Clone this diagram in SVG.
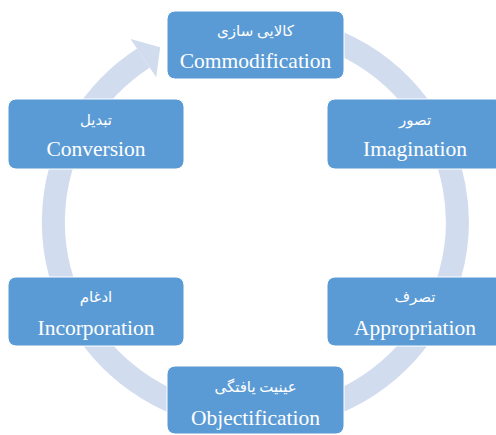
<svg xmlns="http://www.w3.org/2000/svg" width="496" height="435" viewBox="0 0 496 435">
<style>
.box{fill:#5B9BD5;stroke:#FFFFFF;stroke-width:1}
.en{font-family:"Liberation Serif","Times New Roman",serif;font-size:21.5px;fill:#FFFFFF;text-anchor:middle}
.fa{font-family:"Liberation Serif","DejaVu Sans",serif;font-size:15px;fill:#FFFFFF;text-anchor:middle}
.ring{fill:none;stroke:#D1DCEE;stroke-width:23}
</style>
<rect width="496" height="435" fill="#FFFFFF"/>
<g id="connectors">
<path class="ring" d="M237.9,25.8 A202,197 0 1 1 143.4,58.1"/>
<polygon points="130.6,39 160.2,47.2 156.2,77.2" fill="#D1DCEE"/>
</g>
<g id="commodification">
<rect class="box" x="167" y="11" width="177" height="68" rx="8"/>
<text class="fa" x="255.5" y="36" direction="rtl">کالایی سازی</text>
<text class="en" x="255.5" y="68">Commodification</text>
</g>
<g id="imagination">
<rect class="box" x="327" y="99" width="176" height="70" rx="8"/>
<text class="fa" x="415" y="125" direction="rtl">تصور</text>
<text class="en" x="415" y="156">Imagination</text>
</g>
<g id="appropriation">
<rect class="box" x="327" y="277" width="176" height="69" rx="8"/>
<text class="fa" x="415" y="302" direction="rtl">تصرف</text>
<text class="en" x="415" y="335">Appropriation</text>
</g>
<g id="objectification">
<rect class="box" x="167" y="366" width="177" height="68" rx="8"/>
<text class="fa" x="255.5" y="392" direction="rtl">عینیت یافتگی</text>
<text class="en" x="255.5" y="425">Objectification</text>
</g>
<g id="incorporation">
<rect class="box" x="8" y="277" width="176" height="69" rx="8"/>
<text class="fa" x="96" y="302" direction="rtl">ادغام</text>
<text class="en" x="96" y="335">Incorporation</text>
</g>
<g id="conversion">
<rect class="box" x="8" y="99" width="176" height="70" rx="8"/>
<text class="fa" x="96" y="125" direction="rtl">تبدیل</text>
<text class="en" x="96" y="156">Conversion</text>
</g>
</svg>
